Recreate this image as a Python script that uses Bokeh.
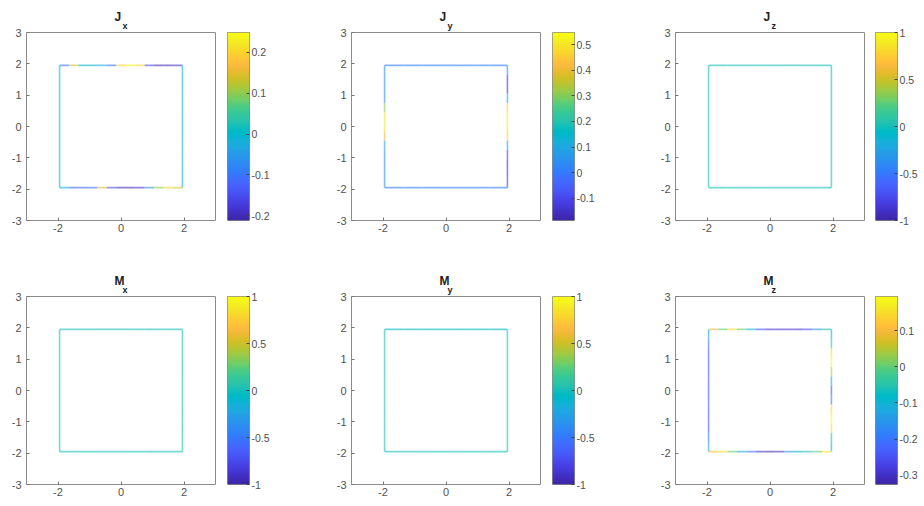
import numpy as np
from bokeh.plotting import figure
from bokeh.models import FixedTicker, Title, ColumnDataSource
from bokeh.layouts import row, column
from bokeh.transform import linear_cmap
from bokeh.embed import file_html
from bokeh.resources import INLINE

# MATLAB parula colormap (64 entries)
PARULA_RGB = [
    (0.2422, 0.1504, 0.6603), (0.2504, 0.1650, 0.7076), (0.2578, 0.1818, 0.7511), (0.2647, 0.1978, 0.7952),
    (0.2706, 0.2147, 0.8364), (0.2751, 0.2342, 0.8710), (0.2783, 0.2559, 0.8991), (0.2803, 0.2782, 0.9221),
    (0.2813, 0.3006, 0.9414), (0.2810, 0.3228, 0.9579), (0.2795, 0.3447, 0.9717), (0.2760, 0.3667, 0.9829),
    (0.2699, 0.3892, 0.9906), (0.2602, 0.4123, 0.9952), (0.2440, 0.4358, 0.9988), (0.2206, 0.4603, 0.9973),
    (0.1963, 0.4847, 0.9892), (0.1834, 0.5074, 0.9798), (0.1786, 0.5289, 0.9682), (0.1764, 0.5499, 0.9520),
    (0.1687, 0.5703, 0.9359), (0.1540, 0.5902, 0.9218), (0.1460, 0.6091, 0.9079), (0.1380, 0.6276, 0.8973),
    (0.1248, 0.6459, 0.8883), (0.1113, 0.6635, 0.8763), (0.0952, 0.6798, 0.8598), (0.0689, 0.6948, 0.8394),
    (0.0297, 0.7082, 0.8163), (0.0036, 0.7203, 0.7917), (0.0067, 0.7312, 0.7660), (0.0433, 0.7411, 0.7394),
    (0.0964, 0.7500, 0.7120), (0.1408, 0.7584, 0.6842), (0.1717, 0.7670, 0.6554), (0.1938, 0.7758, 0.6251),
    (0.2161, 0.7843, 0.5923), (0.2470, 0.7918, 0.5567), (0.2906, 0.7973, 0.5188), (0.3406, 0.8008, 0.4789),
    (0.3909, 0.8029, 0.4354), (0.4456, 0.8024, 0.3909), (0.5044, 0.7993, 0.3480), (0.5616, 0.7942, 0.3045),
    (0.6174, 0.7876, 0.2612), (0.6720, 0.7793, 0.2227), (0.7242, 0.7698, 0.1910), (0.7738, 0.7598, 0.1646),
    (0.8203, 0.7498, 0.1535), (0.8634, 0.7406, 0.1596), (0.9035, 0.7330, 0.1774), (0.9393, 0.7288, 0.2100),
    (0.9728, 0.7298, 0.2394), (0.9956, 0.7434, 0.2371), (0.9970, 0.7659, 0.2199), (0.9952, 0.7893, 0.2028),
    (0.9892, 0.8136, 0.1885), (0.9786, 0.8386, 0.1766), (0.9676, 0.8639, 0.1643), (0.9610, 0.8890, 0.1537),
    (0.9597, 0.9135, 0.1423), (0.9628, 0.9373, 0.1265), (0.9691, 0.9606, 0.1064), (0.9769, 0.9839, 0.0805),
]
PARULA = ["#%02x%02x%02x" % tuple(int(round(c * 255)) for c in rgb) for rgb in PARULA_RGB]

# ---------------- data ----------------
EDGE = 1.95
POS = [-1.95, -1.65, -1.35, -1.05, -0.75, -0.45, -0.15, 0.15, 0.45, 0.75, 1.05, 1.35, 1.65, 1.95]
X_TICKS = [-2, 0, 2]
Y_TICKS = [-3, -2, -1, 0, 1, 2, 3]

names = ["Jx", "Jy", "Jz", "Mx", "My", "Mz"]
titles = [("J", "x"), ("J", "y"), ("J", "z"), ("M", "x"), ("M", "y"), ("M", "z")]

cb_low = [-0.212, -0.186, -1.0, -1.0, -1.0, -0.325]
cb_high = [0.249, 0.547, 1.0, 1.0, 1.0, 0.194]
cb_ticks = [
    [-0.2, -0.1, 0, 0.1, 0.2],
    [-0.1, 0, 0.1, 0.2, 0.3, 0.4, 0.5],
    [-1, -0.5, 0, 0.5, 1],
    [-1, -0.5, 0, 0.5, 1],
    [-1, -0.5, 0, 0.5, 1],
    [-0.3, -0.2, -0.1, 0, 0.1],
]

# values per boundary segment: top (left->right), right (bottom->top),
# bottom (left->right), left (bottom->top)
jx_top = [-0.10, 0.15, 0.00, -0.01, -0.03, -0.10, 0.20, 0.24, 0.20, -0.15, -0.20, -0.20, -0.18]
jx_right = [-0.01] * 13
jx_bottom = [-0.03, -0.12, -0.12, -0.10, 0.15, -0.15, -0.20, -0.20, -0.18, -0.06, 0.10, 0.20, 0.15]
jx_left = [-0.01] * 13

jy_top = [0.02] * 13
jy_right = [-0.12, -0.15, -0.15, -0.12, 0.10, 0.45, 0.50, 0.50, 0.45, 0.10, -0.15, -0.15, 0.03]
jy_bottom = [0.02] * 13
jy_left = [0.05, 0.05, 0.05, 0.05, 0.10, 0.40, 0.50, 0.50, 0.30, 0.05, 0.05, 0.05, 0.05]

jz_top = [0.0] * 13
jz_right = [0.0] * 13
jz_bottom = [0.0] * 13
jz_left = [0.0] * 13

mx_top = [0.0] * 13
mx_right = [0.0] * 13
mx_bottom = [0.0] * 13
mx_left = [0.0] * 13

my_top = [-0.05] * 13
my_right = [0.0] * 13
my_bottom = [0.0] * 13
my_left = [0.0] * 13

mz_top = [0.10, 0.00, 0.15, 0.00, -0.10, -0.25, -0.30, -0.30, -0.30, -0.30, -0.25, -0.15, -0.05]
mz_right = [-0.08, -0.05, 0.15, 0.18, 0.15, -0.20, -0.25, -0.10, 0.05, 0.18, 0.15, -0.05, -0.08]
mz_bottom = [0.10, 0.15, 0.00, -0.10, -0.20, -0.30, -0.32, -0.30, -0.15, -0.08, -0.05, 0.00, 0.15]
mz_left = [-0.10, -0.20, -0.25, -0.25, -0.25, -0.25, -0.25, -0.25, -0.25, -0.25, -0.25, -0.20, -0.10]

sides = [
    (jx_top, jx_right, jx_bottom, jx_left),
    (jy_top, jy_right, jy_bottom, jy_left),
    (jz_top, jz_right, jz_bottom, jz_left),
    (mx_top, mx_right, mx_bottom, mx_left),
    (my_top, my_right, my_bottom, my_left),
    (mz_top, mz_right, mz_bottom, mz_left),
]

# ---------------- styling ----------------
FONT = "Liberation Sans"
TXT = "#505050"
BOX = "#8c8c8c"
FW, FH = 189, 188


def plain_labels(ticks):
    # ASCII hyphen-minus, as in the original
    return {t: ("%g" % t) for t in ticks}


def style_axis(ax, ticks, size="11px"):
    ax.ticker = FixedTicker(ticks=ticks)
    ax.major_label_overrides = plain_labels(ticks)
    ax.axis_line_color = None
    ax.major_tick_in = 3
    ax.major_tick_out = 0
    ax.major_tick_line_color = "#777777"
    ax.minor_tick_line_color = None
    ax.major_label_text_font = FONT
    ax.major_label_text_font_size = size
    ax.major_label_text_color = TXT


def make_panel(k, top_border, bottom_border, left_border, gap, cb_right):
    lo, hi = cb_low[k], cb_high[k]
    p = figure(frame_width=FW, frame_height=FH, x_range=(-3, 3), y_range=(-3, 3),
               min_border_left=left_border, min_border_right=gap, min_border_top=top_border,
               min_border_bottom=bottom_border, toolbar_location=None, output_backend="svg")
    p.grid.visible = False
    p.outline_line_color = BOX
    p.outline_line_width = 1
    p.background_fill_color = "white"
    p.border_fill_color = "white"
    style_axis(p.xaxis[0], X_TICKS)
    style_axis(p.yaxis[0], Y_TICKS)
    p.xaxis[0].major_label_standoff = 3
    p.yaxis[0].major_label_standoff = 5

    main, sub = titles[k]
    # subscript first (nearest to the frame), then the main letter above it
    p.add_layout(Title(text=sub, align="left", offset=96, standoff=4,
                       text_font=FONT, text_font_style="bold", text_font_size="9px",
                       text_color="#222222"), "above")
    p.add_layout(Title(text=main, align="left", offset=88, standoff=-14,
                       text_font=FONT, text_font_style="bold", text_font_size="12px",
                       text_color="#222222"), "above")

    top, right, bottom, left = sides[k]
    xs, ys, vals = [], [], []
    for i in range(len(POS) - 1):
        xs.append([POS[i], POS[i + 1]]); ys.append([EDGE, EDGE]); vals.append(top[i])
        xs.append([EDGE, EDGE]); ys.append([POS[i], POS[i + 1]]); vals.append(right[i])
        xs.append([POS[i], POS[i + 1]]); ys.append([-EDGE, -EDGE]); vals.append(bottom[i])
        xs.append([-EDGE, -EDGE]); ys.append([POS[i], POS[i + 1]]); vals.append(left[i])
    src = ColumnDataSource(dict(xs=xs, ys=ys, v=vals))
    p.multi_line("xs", "ys", source=src, line_width=1.6, line_alpha=0.6,
                 line_color=linear_cmap("v", PARULA, lo, hi))

    # colour bar as its own small figure
    cb = figure(frame_width=22, frame_height=FH, x_range=(0, 1), y_range=(lo, hi),
                min_border_left=0, min_border_right=cb_right, min_border_top=top_border,
                min_border_bottom=bottom_border, toolbar_location=None, output_backend="svg",
                x_axis_location=None, y_axis_location="right")
    cb.grid.visible = False
    cb.outline_line_color = BOX
    grad = np.linspace(lo, hi, 256).reshape(256, 1)
    cb.image(image=[grad], x=0, y=lo, dw=1, dh=hi - lo, palette=PARULA)
    style_axis(cb.yaxis[0], cb_ticks[k], "10.5px")
    cb.yaxis[0].major_label_standoff = 2
    cb.yaxis[0].major_tick_line_color = "#444444"
    return row(p, cb, spacing=0)


ROW_TOP = [32, 24]
ROW_BOTTOM = [52, 18]
COL_LEFT = [26, 18, 18]
COL_GAP = [12, 12, 11]
COL_CB_RIGHT = [84, 83, 0]

rows = []
for r in range(2):
    cells = []
    for c in range(3):
        k = r * 3 + c
        cells.append(make_panel(k, ROW_TOP[r], ROW_BOTTOM[r], COL_LEFT[c], COL_GAP[c], COL_CB_RIGHT[c]))
    rows.append(row(*cells, spacing=0))

layout = column(*rows, spacing=0)

open("out.html", "w").write(file_html(layout, INLINE, title="J and M"))
